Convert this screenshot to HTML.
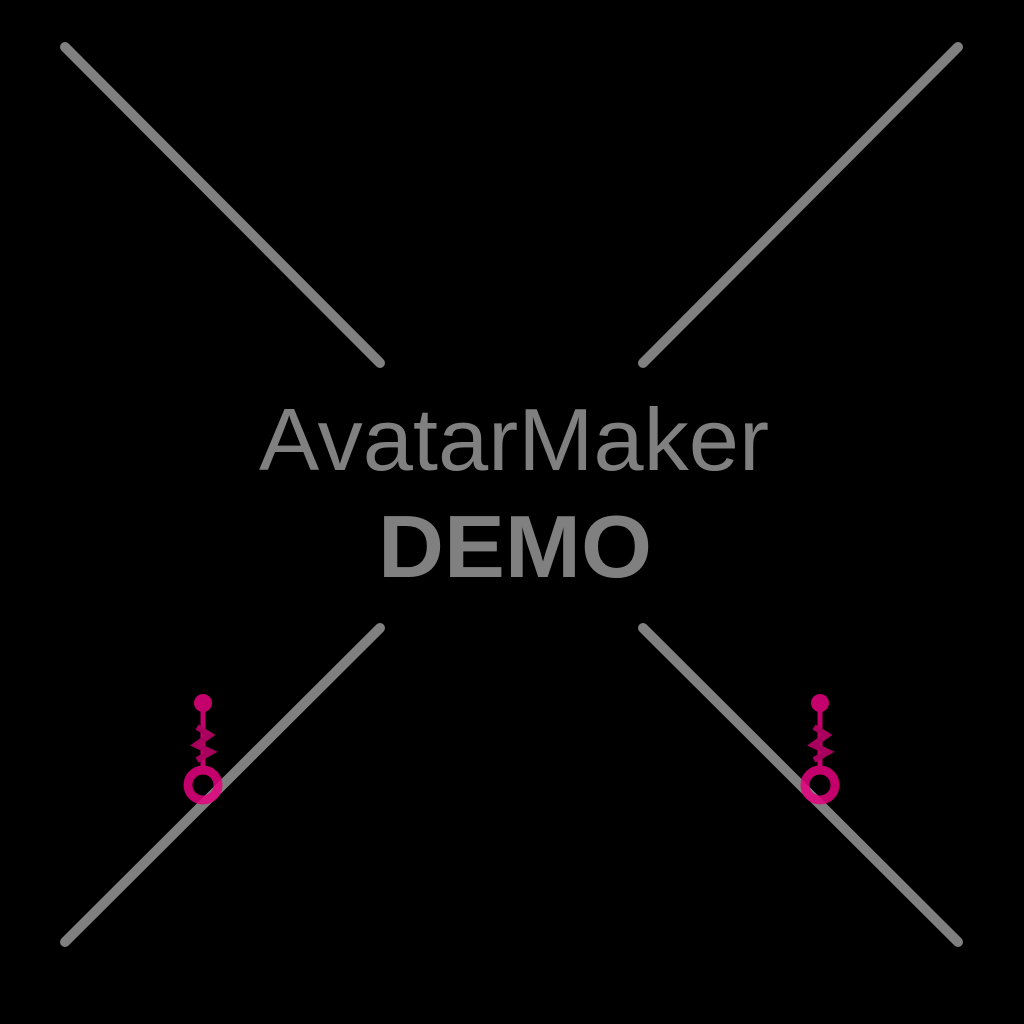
<!DOCTYPE html>
<html><head><style>
html,body{margin:0;padding:0;background:#000;width:1024px;height:1024px;overflow:hidden}
</style></head><body>
<svg width="1024" height="1024" viewBox="0 0 1024 1024" xmlns="http://www.w3.org/2000/svg">
<rect width="1024" height="1024" fill="#000"/>
<g stroke="#808080" stroke-width="10" stroke-linecap="round">
<line x1="65" y1="47" x2="380" y2="363"/>
<line x1="958" y1="47" x2="643" y2="363"/>
<line x1="380" y1="628" x2="65" y2="942"/>
<line x1="643" y1="628" x2="958" y2="942"/>
</g>
<g id="e" opacity="0.85">
<circle cx="203" cy="703" r="9" fill="#e6007e"/>
<rect x="200.5" y="703" width="5" height="65" fill="#e6007e"/>
<path d="M197 727 L210 735 L196 745 L211 752 L197 760" stroke="#c8006e" stroke-width="6" fill="none"/>
<circle cx="203" cy="785" r="15" fill="none" stroke="#e6007e" stroke-width="9"/>
</g>
<use href="#e" x="617" y="0"/>
<g font-family="Liberation Sans, sans-serif" fill="#808080" text-anchor="middle">
<text x="514" y="470" font-size="88" textLength="510" lengthAdjust="spacingAndGlyphs">AvatarMaker</text>
<text x="515" y="577" font-size="88" font-weight="bold" textLength="274" lengthAdjust="spacingAndGlyphs">DEMO</text>
</g>
</svg>
</body></html>
